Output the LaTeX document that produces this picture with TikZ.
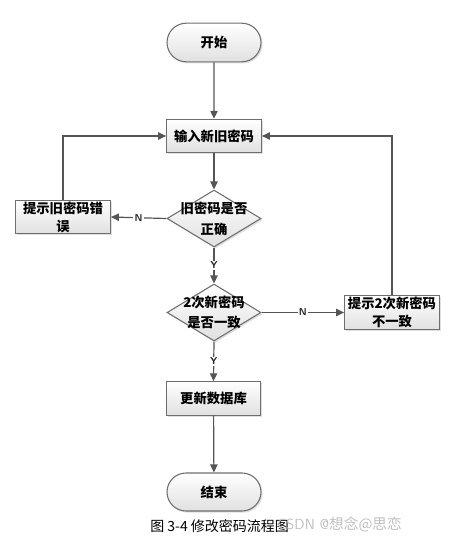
\documentclass[tikz,border=0pt]{standalone}
\usepackage{fontspec}
\newfontfamily\cjk{Noto Sans CJK SC}
\usetikzlibrary{shapes.geometric,shapes.misc,arrows.meta,shadows}
\definecolor{edgegray}{HTML}{555555}
\definecolor{bordergray}{HTML}{6E6E6E}
\tikzset{
  base/.style={draw=bordergray, line width=0.8pt, top color=white, bottom color=black!12,
    drop shadow={opacity=0.25, shadow xshift=1.2pt, shadow yshift=-1.2pt},
    font=\cjk\bfseries\fontsize{10}{13.5}\selectfont, align=center, inner sep=0pt},
  term/.style={base, rounded rectangle, minimum width=70.5pt, minimum height=29pt},
  procbox/.style={base, rectangle, minimum width=71pt, minimum height=25pt},
  dia/.style={base, diamond, minimum width=70.5pt, minimum height=42.75pt, aspect=1.65},
  diatext/.style={font=\cjk\bfseries\fontsize{10}{15.5}\selectfont, align=center, inner sep=0pt},
  conn/.style={draw=edgegray, line width=0.9pt, -{Triangle[length=6pt,width=5.5pt]}},
  yn/.style={fill=white, font=\sffamily\bfseries\fontsize{7.5}{8}\selectfont, inner sep=1pt, text=black!85}
}
\begin{document}
\begin{tikzpicture}[x=0.75pt,y=-0.75pt]
\useasboundingbox (0,0) rectangle (451,547);
\node[term] (start) at (214,42.5) {开始};
\node[procbox] (input) at (214,136) {输入新旧密码};
\node[dia] (d1) at (214,218.5) {};
\node[diatext] at (d1) {旧密码是否\\正确};
\node[procbox] (err) at (63,217) {提示旧密码错\\误};
\node[dia] (d2) at (214,312.5) {};
\node[diatext] at (d2) {2次新密码\\是否一致};
\node[procbox, minimum height=26pt] (err2) at (392,312.5) {提示2次新密码\\不一致};
\node[procbox] (upd) at (213.5,398.5) {更新数据库};
\node[term, minimum height=28.5pt] (stop) at (214,492) {结束};
\draw[conn] (start) -- (input);
\draw[conn] (input) -- (d1);
\draw[conn] (d1.west) -- node[yn, pos=0.5] {N} (err.east);
\draw[conn] (err.north) |- (input.west);
\draw[conn] (d1.south) -- node[yn, pos=0.5] {Y} (d2.north);
\draw[conn] (d2.east) -- node[yn, pos=0.5] {N} (err2.west);
\draw[conn] (err2.north) |- (input.east);
\draw[conn] (d2.south) -- node[yn, pos=0.5] {Y} (upd.north);
\draw[conn] (upd) -- (stop);
\node[anchor=west, font=\cjk\fontsize{10.5}{12}\selectfont, inner sep=0pt] (cap) at (150,526) {图 3-4 修改密码流程图};
\node[anchor=west, font=\sffamily\fontsize{11}{12}\selectfont, text=black!25, inner sep=0pt] (wm) at (277,524) {CSDN @\cjk 想念@思恋};
\end{tikzpicture}
\end{document}
